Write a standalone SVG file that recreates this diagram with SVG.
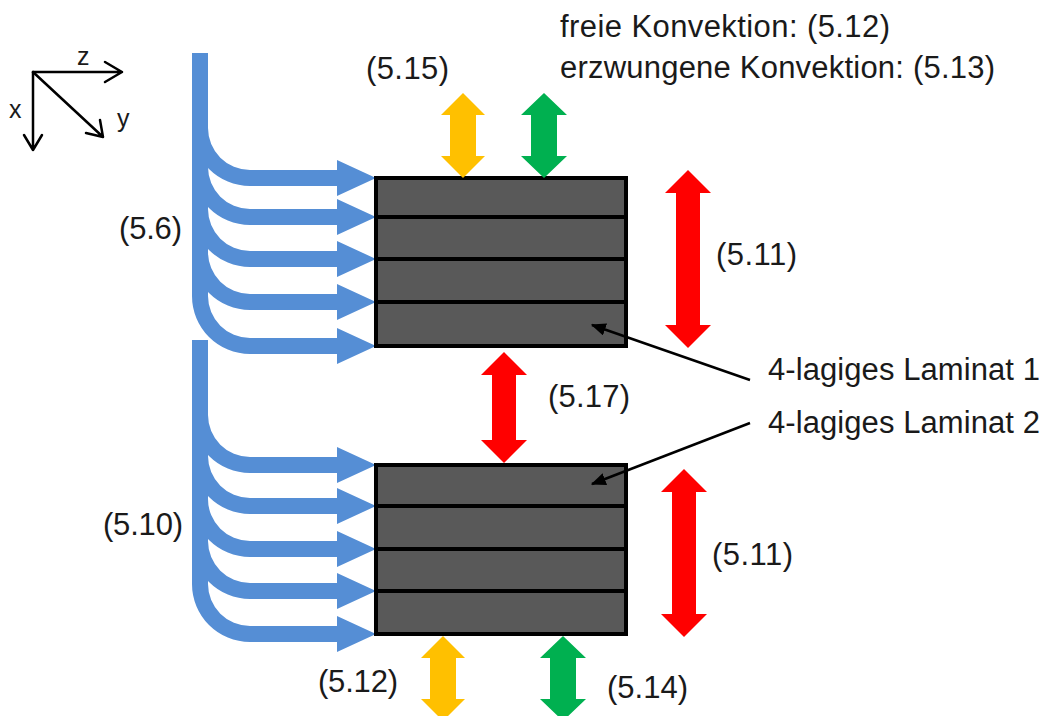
<svg xmlns="http://www.w3.org/2000/svg" width="1045" height="716" viewBox="0 0 1045 716">
  <defs>
    <style>
      .lbl { font-family: "Liberation Sans", Arial, sans-serif; font-size: 31px; fill: #1a1a1a; }
      .axl { font-family: "Liberation Sans", Arial, sans-serif; font-size: 25px; fill: #1a1a1a; }
      .flow { fill: #558ED5; }
      .ply { fill: #595959; stroke: #000; stroke-width: 4; }
      .sep { stroke: #000; stroke-width: 4; }
      .yel { fill: #FFC000; }
      .grn { fill: #00B050; }
      .red { fill: #FF0000; }
      .axis { stroke: #000; stroke-width: 2.5; fill: none; stroke-linecap: round; stroke-linejoin: round; }
      .lead { stroke: #000; stroke-width: 2.5; fill: none; }
    </style>
    <marker id="ptr" viewBox="0 0 12 10" refX="11" refY="5" markerWidth="6" markerHeight="5" orient="auto" markerUnits="strokeWidth">
      <path d="M0,0 L12,5 L0,10 Z" fill="#000"/>
    </marker>
  </defs>
  <rect width="1045" height="716" fill="#fff"/>

  <!-- coordinate system -->
  <g id="axes">
    <path class="axis" d="M33,72 L122,72 M105,62 L122,72 L105,82"/>
    <path class="axis" d="M33,72 L33,150 M24,135 L33,150 L42,135"/>
    <path class="axis" d="M33,72 L103,137 M86,133 L103,137 L100,120"/>
    <text class="axl" x="77" y="65">z</text>
    <text class="axl" x="9" y="118">x</text>
    <text class="axl" x="117" y="127">y</text>
  </g>

  <!-- inflow fan, upper laminate -->
  <g id="inflow-1">
    <path class="flow" d="M192,53 L208,53 L208,128 A42,42 0 0 0 250,170 L337,170 L337,160 L376,178 L337,196 L337,186 L250,186 A58,58 0 0 1 192,128 Z"/>
    <path class="flow" d="M192,53 L208,53 L208,167 A42,42 0 0 0 250,209 L337,209 L337,199 L376,217 L337,235 L337,225 L250,225 A58,58 0 0 1 192,167 Z"/>
    <path class="flow" d="M192,53 L208,53 L208,209 A42,42 0 0 0 250,251 L337,251 L337,241 L376,259 L337,277 L337,267 L250,267 A58,58 0 0 1 192,209 Z"/>
    <path class="flow" d="M192,53 L208,53 L208,252 A42,42 0 0 0 250,294 L337,294 L337,284 L376,302 L337,320 L337,310 L250,310 A58,58 0 0 1 192,252 Z"/>
    <path class="flow" d="M192,53 L208,53 L208,296 A42,42 0 0 0 250,338 L337,338 L337,328 L376,346 L337,364 L337,354 L250,354 A58,58 0 0 1 192,296 Z"/>
  </g>

  <!-- inflow fan, lower laminate -->
  <g id="inflow-2">
    <path class="flow" d="M192,340 L208,340 L208,415 A42,42 0 0 0 250,457 L337,457 L337,447 L376,465 L337,483 L337,473 L250,473 A58,58 0 0 1 192,415 Z"/>
    <path class="flow" d="M192,340 L208,340 L208,456 A42,42 0 0 0 250,498 L337,498 L337,488 L376,506 L337,524 L337,514 L250,514 A58,58 0 0 1 192,456 Z"/>
    <path class="flow" d="M192,340 L208,340 L208,499 A42,42 0 0 0 250,541 L337,541 L337,531 L376,549 L337,567 L337,557 L250,557 A58,58 0 0 1 192,499 Z"/>
    <path class="flow" d="M192,340 L208,340 L208,541 A42,42 0 0 0 250,583 L337,583 L337,573 L376,591 L337,609 L337,599 L250,599 A58,58 0 0 1 192,541 Z"/>
    <path class="flow" d="M192,340 L208,340 L208,584 A42,42 0 0 0 250,626 L337,626 L337,616 L376,634 L337,652 L337,642 L250,642 A58,58 0 0 1 192,584 Z"/>
  </g>

  <!-- laminate 1 -->
  <g id="laminate-1">
    <rect class="ply" x="376" y="178" width="250" height="168"/>
    <path class="sep" d="M376,217 L626,217 M376,259 L626,259 M376,302 L626,302"/>
  </g>

  <!-- laminate 2 -->
  <g id="laminate-2">
    <rect class="ply" x="376" y="465" width="250" height="169"/>
    <path class="sep" d="M376,506 L626,506 M376,549 L626,549 M376,591 L626,591"/>
  </g>

  <!-- heat exchange arrows -->
  <g id="exchange">
    <path class="yel" d="M463,93 L485,115 L476,115 L476,156 L485,156 L463,178 L441,156 L450,156 L450,115 L441,115 Z"/>
    <path class="grn" d="M544,93 L567,115 L557,115 L557,156 L567,156 L544,178 L521,156 L531,156 L531,115 L521,115 Z"/>
    <path class="red" d="M688,170 L711,193 L700,193 L700,325 L711,325 L688,348 L665,325 L676,325 L676,193 L665,193 Z"/>
    <path class="red" d="M504,352 L527,375 L516,375 L516,440 L527,440 L504,463 L481,440 L492,440 L492,375 L481,375 Z"/>
    <path class="red" d="M684,469 L707,492 L696,492 L696,614 L707,614 L684,637 L661,614 L672,614 L672,492 L661,492 Z"/>
    <path class="yel" d="M443,636 L465,658 L456,658 L456,699 L465,699 L443,721 L421,699 L430,699 L430,658 L421,658 Z"/>
    <path class="grn" d="M563,636 L586,658 L576,658 L576,699 L586,699 L563,721 L540,699 L550,699 L550,658 L540,658 Z"/>
  </g>

  <!-- leader lines -->
  <g id="leaders">
    <path class="lead" d="M750,380 L592,325" marker-end="url(#ptr)"/>
    <path class="lead" d="M750,423 L592,484" marker-end="url(#ptr)"/>
  </g>

  <!-- labels -->
  <g id="labels">
    <text class="lbl" x="560" y="37" textLength="330" lengthAdjust="spacing">freie Konvektion: (5.12)</text>
    <text class="lbl" x="560" y="78" textLength="435" lengthAdjust="spacing">erzwungene Konvektion: (5.13)</text>
    <text class="lbl" x="366" y="79" textLength="83" lengthAdjust="spacing">(5.15)</text>
    <text class="lbl" x="119" y="239" textLength="63" lengthAdjust="spacing">(5.6)</text>
    <text class="lbl" x="716" y="265" textLength="81" lengthAdjust="spacing">(5.11)</text>
    <text class="lbl" x="548" y="407" textLength="82" lengthAdjust="spacing">(5.17)</text>
    <text class="lbl" x="768" y="380" textLength="272" lengthAdjust="spacing">4-lagiges Laminat 1</text>
    <text class="lbl" x="768" y="433" textLength="272" lengthAdjust="spacing">4-lagiges Laminat 2</text>
    <text class="lbl" x="103" y="535" textLength="80" lengthAdjust="spacing">(5.10)</text>
    <text class="lbl" x="712" y="565" textLength="81" lengthAdjust="spacing">(5.11)</text>
    <text class="lbl" x="318" y="692" textLength="80" lengthAdjust="spacing">(5.12)</text>
    <text class="lbl" x="607" y="698" textLength="81" lengthAdjust="spacing">(5.14)</text>
  </g>
</svg>
